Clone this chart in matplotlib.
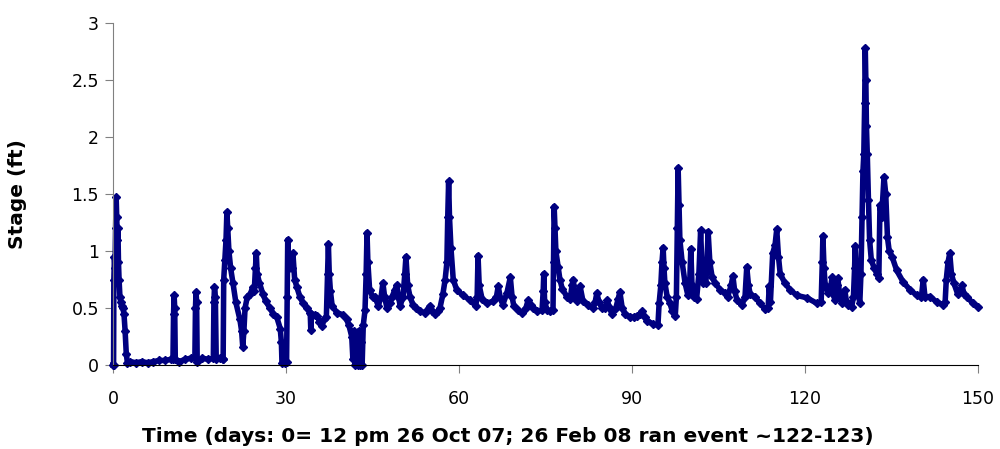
import matplotlib
matplotlib.use("Agg")
import matplotlib.pyplot as plt

# stage record (days since 12 pm 26 Oct 07, stage in ft)
days = [
    0.0, 0.1, 0.15, 0.25, 0.35, 0.45, 0.55, 0.65, 0.75, 0.85, 0.95, 1.05, 1.2, 1.35, 1.5, 1.7, 1.9, 2.1, 2.3, 2.5,
    3.0, 4.0, 5.0, 6.0, 7.0, 8.0, 9.0, 10.0, 10.4, 10.5, 10.6, 10.7, 10.8, 11.5, 12.5, 13.5, 14.2, 14.3, 14.4, 14.5,
    14.6, 15.5, 16.5, 17.4, 17.5, 17.6, 17.75, 17.9, 18.5, 19.0, 19.1, 19.2, 19.4, 19.6, 19.75, 19.9, 20.1, 20.4,
    20.8, 21.3, 22.0, 22.3, 22.5, 22.7, 22.9, 23.3, 23.8, 24.2, 24.5, 24.7, 24.85, 25.0, 25.4, 26.0, 26.5, 27.2,
    27.8, 28.4, 29.0, 29.2, 29.3, 29.8, 30.1, 30.2, 30.3, 30.45, 30.7, 31.0, 31.2, 31.5, 31.9, 32.4, 33.0, 33.6,
    34.2, 34.3, 34.4, 35.0, 35.4, 35.8, 36.2, 36.6, 37.0, 37.2, 37.35, 37.5, 37.7, 38.0, 38.8, 39.9, 40.5, 40.9,
    41.4, 41.6, 41.8, 42.0, 42.2, 42.4, 42.6, 42.8, 43.0, 43.2, 43.4, 43.7, 43.9, 44.05, 44.2, 44.5, 45.0, 45.4,
    46.0, 46.5, 46.8, 47.1, 47.5, 48.0, 48.4, 48.9, 49.2, 49.5, 49.8, 50.3, 50.6, 50.8, 51.1, 51.5, 52.0, 52.6,
    53.2, 54.1, 55.0, 55.4, 55.8, 56.3, 56.7, 57.2, 57.6, 57.9, 58.05, 58.2, 58.35, 58.6, 59.0, 59.6, 60.7, 61.9,
    62.9, 63.15, 63.3, 63.5, 64.0, 64.8, 65.9, 66.5, 66.8, 67.2, 67.6, 68.3, 68.9, 69.2, 69.5, 70.2, 70.9, 71.6,
    72.0, 72.4, 72.8, 73.5, 74.4, 74.6, 74.7, 74.85, 75.3, 75.8, 76.3, 76.4, 76.5, 76.65, 76.8, 77.2, 77.5, 77.9,
    78.7, 79.3, 79.6, 79.8, 80.1, 80.5, 81.0, 81.5, 82.4, 83.2, 83.6, 83.9, 84.3, 84.8, 85.3, 85.7, 86.1, 86.5,
    87.2, 87.6, 87.9, 88.3, 88.8, 89.6, 90.3, 90.9, 91.4, 91.7, 92.2, 92.6, 93.6, 94.5, 94.7, 95.0, 95.2, 95.4,
    95.55, 95.7, 96.1, 96.6, 97.0, 97.5, 97.7, 97.85, 98.0, 98.15, 98.3, 98.7, 99.2, 99.7, 100.0, 100.2, 100.4,
    100.7, 101.2, 101.6, 101.9, 102.1, 102.3, 102.8, 103.0, 103.2, 103.5, 103.9, 104.4, 105.3, 106.1, 106.6,
    107.2, 107.5, 107.8, 108.2, 109.1, 109.6, 109.9, 110.2, 110.5, 111.3, 112.2, 113.1, 113.6, 113.8, 114.0,
    114.4, 114.8, 115.1, 115.4, 115.7, 116.5, 117.4, 118.6, 120.3, 122.1, 122.8, 123.0, 123.1, 123.3, 123.5,
    124.0, 124.5, 124.7, 124.9, 125.2, 125.5, 125.7, 126.0, 126.4, 126.9, 127.2, 127.5, 128.1, 128.4, 128.6,
    128.7, 128.9, 129.2, 129.5, 129.7, 129.9, 130.05, 130.2, 130.35, 130.45, 130.55, 130.65, 130.8, 131.0,
    131.2, 131.5, 132.0, 132.5, 132.8, 133.0, 133.3, 133.7, 134.0, 134.3, 134.6, 135.1, 135.9, 137.0, 138.2,
    139.4, 140.2, 140.5, 140.8, 141.7, 142.9, 143.9, 144.3, 144.5, 144.8, 145.1, 145.4, 145.8, 146.5, 146.9,
    147.2, 147.6, 148.1, 149.1, 150.0,
]
stage = [
    0.0, 0.0, 0.75, 0.95, 0.85, 1.2, 1.47, 1.3, 1.1, 1.2, 0.9, 0.75, 0.6, 0.55, 0.52, 0.5, 0.45, 0.3, 0.1, 0.02,
    0.03, 0.02, 0.03, 0.02, 0.03, 0.04, 0.04, 0.05, 0.05, 0.45, 0.61, 0.5, 0.05, 0.03, 0.05, 0.06, 0.06, 0.5, 0.64, 0.55,
    0.03, 0.06, 0.05, 0.06, 0.55, 0.68, 0.6, 0.05, 0.06, 0.05, 0.05, 0.75, 0.92, 1.1, 1.34, 1.2, 1.0, 0.85,
    0.72, 0.55, 0.4, 0.3, 0.16, 0.3, 0.5, 0.6, 0.62, 0.68, 0.65, 0.85, 0.98, 0.8, 0.72, 0.62, 0.56, 0.5,
    0.45, 0.42, 0.32, 0.2, 0.02, 0.02, 0.03, 0.6, 1.1, 0.85, 0.95, 0.85, 0.98, 0.75, 0.68, 0.6, 0.54, 0.5,
    0.46, 0.31, 0.45, 0.44, 0.43, 0.38, 0.34, 0.4, 0.42, 0.8, 1.06, 0.8, 0.65, 0.52, 0.46, 0.44, 0.4, 0.35,
    0.25, 0.05, 0.3, 0.0, 0.25, 0.0, 0.3, 0.0, 0.2, 0.0, 0.35, 0.48, 0.8, 1.16, 0.9, 0.66, 0.6, 0.6,
    0.52, 0.6, 0.72, 0.6, 0.5, 0.54, 0.6, 0.66, 0.7, 0.6, 0.52, 0.6, 0.8, 0.95, 0.7, 0.6, 0.53, 0.5,
    0.47, 0.46, 0.52, 0.47, 0.45, 0.47, 0.5, 0.62, 0.75, 0.9, 1.3, 1.61, 1.3, 1.03, 0.75, 0.66, 0.61, 0.57,
    0.52, 0.6, 0.96, 0.7, 0.58, 0.54, 0.56, 0.6, 0.69, 0.58, 0.53, 0.63, 0.77, 0.6, 0.52, 0.48, 0.46, 0.5,
    0.57, 0.53, 0.5, 0.47, 0.48, 0.65, 0.8, 0.55, 0.48, 0.47, 0.48, 0.9, 1.39, 1.2, 1.0, 0.86, 0.75, 0.67,
    0.6, 0.58, 0.7, 0.75, 0.62, 0.56, 0.69, 0.56, 0.53, 0.5, 0.55, 0.63, 0.55, 0.5, 0.5, 0.57, 0.5, 0.45,
    0.5, 0.58, 0.64, 0.5, 0.45, 0.42, 0.42, 0.43, 0.45, 0.47, 0.42, 0.39, 0.36, 0.35, 0.54, 0.7, 0.9, 1.03,
    0.85, 0.72, 0.6, 0.54, 0.47, 0.43, 0.6, 1.2, 1.73, 1.4, 1.1, 0.9, 0.72, 0.61, 0.7, 1.02, 0.7,
    0.6, 0.58, 0.8, 1.18, 0.9, 0.72, 0.72, 0.9, 1.17, 0.9, 0.77, 0.72, 0.66, 0.63, 0.6,
    0.7, 0.78, 0.65, 0.57, 0.53, 0.6, 0.86, 0.7, 0.62, 0.6, 0.54, 0.49, 0.5, 0.69, 0.55,
    0.98, 1.05, 1.19, 0.95, 0.8, 0.72, 0.66, 0.61, 0.59, 0.54, 0.55, 0.9, 1.13, 0.85, 0.7,
    0.63, 0.7, 0.77, 0.62, 0.57, 0.7, 0.76, 0.62, 0.54, 0.66, 0.55, 0.53, 0.51, 0.6, 0.85,
    1.04, 0.8, 0.65, 0.54, 0.8, 1.3, 1.7, 1.85, 2.3, 2.78, 2.5, 2.1, 1.85, 1.45,
    1.1, 0.92, 0.85, 0.8, 0.76, 1.4, 1.3, 1.65, 1.5, 1.12, 1.0, 0.95, 0.83, 0.73, 0.66,
    0.61, 0.6, 0.75, 0.6, 0.6, 0.55, 0.53, 0.55, 0.75, 0.9, 0.98, 0.8, 0.72, 0.62, 0.65,
    0.7, 0.62, 0.6, 0.54, 0.51,
]

x_ticks = [0, 30, 60, 90, 120, 150]
y_ticks = [0, 0.5, 1, 1.5, 2, 2.5, 3]
y_tick_labels = ["0", "0.5", "1", "1.5", "2", "2.5", "3"]

plt.rcParams['font.family'] = ['DejaVu Sans']

fig = plt.figure(figsize=(10, 4.49), dpi=100)
ax = fig.add_axes([0.113, 0.187, 0.865, 0.762])

# dense logger record: diamonds joined so the band reads as continuous
ax.plot(days, stage, color='#000080', lw=4, marker='D', ms=4.5,
        markeredgecolor='#000080', solid_joinstyle='round', clip_on=False)

ax.set_xlim(0, 150)
ax.set_ylim(0, 3)
ax.set_xticks(x_ticks)
ax.set_yticks(y_ticks)
ax.set_yticklabels(y_tick_labels)

for side in ['top', 'right']:
    ax.spines[side].set_visible(False)
ax.spines['left'].set_color('#808080')
ax.spines['bottom'].set_color('black')
ax.tick_params(axis='both', direction='out', length=6, labelsize=12.5)
ax.tick_params(axis='y', colors='#808080', labelcolor='black', pad=4)
ax.tick_params(axis='x', colors='#808080', labelcolor='black', pad=12)

ax.set_xlabel("Time (days: 0= 12 pm 26 Oct 07; 26 Feb 08 ran event ~122-123)",
              fontsize=14.5, fontweight='bold')
ax.xaxis.set_label_coords(0.457, -0.21)
ax.xaxis.label.set_va('center')
ax.set_ylabel("Stage (ft)", fontsize=14.5, fontweight='bold')
ax.yaxis.set_label_coords(-0.11, 0.5)
ax.yaxis.label.set_va('center')

fig.savefig('out.png', dpi=100, facecolor='white')
